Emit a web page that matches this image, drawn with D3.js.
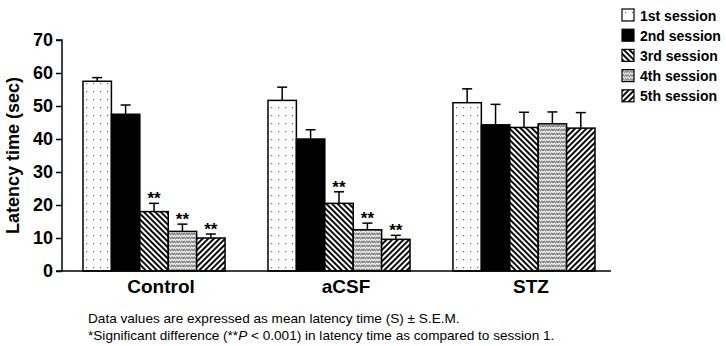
<!DOCTYPE html>
<html>
<head>
<meta charset="utf-8">
<script src="https://cdn.jsdelivr.net/npm/d3@7"></script>
<style>
  body { margin: 0; background: #fff; }
  svg { display: block; font-family: "Liberation Sans", Arial, sans-serif; }
</style>
</head>
<body>
<svg id="chart" width="726" height="346"></svg>
<script>
// Groups and sessions
const groups = ["Control", "aCSF", "STZ"];
const sessions = ["1st session", "2nd session", "3rd session", "4th session", "5th session"];

// Mean latency (sec) per session, one array per group
const controlMeans = [57.5, 47.5, 18.0, 12.0, 10.0];
const acsfMeans    = [51.7, 40.0, 20.5, 12.5, 9.6];
const stzMeans     = [51.0, 44.3, 43.5, 44.6, 43.3];

// S.E.M. per session
const controlSem = [1.1, 2.8, 2.5, 2.2, 1.2];
const acsfSem    = [4.0, 2.8, 3.5, 2.0, 1.2];
const stzSem     = [4.2, 6.2, 4.6, 3.6, 4.7];

// Significance marks per session (vs session 1)
const controlSig = ["", "", "**", "**", "**"];
const acsfSig    = ["", "", "**", "**", "**"];
const stzSig     = ["", "", "", "", ""];

const yTicks = [0, 10, 20, 30, 40, 50, 60, 70];

const table = [
  { group: "Control", means: controlMeans, sem: controlSem, sig: controlSig },
  { group: "aCSF",    means: acsfMeans,    sem: acsfSem,    sig: acsfSig },
  { group: "STZ",     means: stzMeans,     sem: stzSem,     sig: stzSig }
];
const rows = table.flatMap(g => g.means.map((m, i) => ({
  group: g.group, session: sessions[i], mean: m, sem: g.sem[i], sig: g.sig[i]
})));

const svg = d3.select("#chart");

// Fill patterns, one per session
const defs = svg.append("defs");
const dots = defs.append("pattern").attr("id", "pDots")
  .attr("patternUnits", "userSpaceOnUse").attr("width", 7).attr("height", 8);
dots.append("rect").attr("width", 7).attr("height", 8).attr("fill", "#fff");
dots.append("rect").attr("x", 3).attr("y", 3).attr("width", 1.2).attr("height", 1.2).attr("fill", "#666");

const back = defs.append("pattern").attr("id", "pBack")
  .attr("patternUnits", "userSpaceOnUse").attr("width", 4).attr("height", 4)
  .attr("patternTransform", "rotate(-45)");
back.append("rect").attr("width", 4).attr("height", 4).attr("fill", "#fff");
back.append("rect").attr("x", 0).attr("y", 0).attr("width", 1.9).attr("height", 4).attr("fill", "#000");

const zig = defs.append("pattern").attr("id", "pZig")
  .attr("patternUnits", "userSpaceOnUse").attr("width", 5).attr("height", 4);
zig.append("rect").attr("width", 5).attr("height", 4).attr("fill", "#fff");
zig.append("path").attr("d", "M0,3.4 L1.25,0.6 L2.5,3.4 L3.75,0.6 L5,3.4")
  .attr("fill", "none").attr("stroke", "#666").attr("stroke-width", 1);

const fwd = defs.append("pattern").attr("id", "pFwd")
  .attr("patternUnits", "userSpaceOnUse").attr("width", 4).attr("height", 4)
  .attr("patternTransform", "rotate(45)");
fwd.append("rect").attr("width", 4).attr("height", 4).attr("fill", "#fff");
fwd.append("rect").attr("x", 0).attr("y", 0).attr("width", 1.9).attr("height", 4).attr("fill", "#000");

const fills = ["url(#pDots)", "#000", "url(#pBack)", "url(#pZig)", "url(#pFwd)"];
const color = d3.scaleOrdinal().domain(sessions).range(fills);

// Scales
const x0 = d3.scaleBand().domain(groups).range([83, 595]).paddingInner(0.232).paddingOuter(0);
const x1 = d3.scaleBand().domain(sessions).range([0, x0.bandwidth()]);
const y = d3.scaleLinear().domain([0, 70]).range([271, 40]);

// Y axis
const yAxis = svg.append("g").attr("transform", "translate(62,0)")
  .call(d3.axisLeft(y).tickValues(yTicks).tickSize(6).tickPadding(3));
yAxis.select(".domain").attr("stroke", "#000").attr("stroke-width", 1.5)
  .attr("d", `M-6,${y(70)}H0V${y(0)}`);
yAxis.selectAll(".tick line").attr("stroke", "#000").attr("stroke-width", 1.5);
yAxis.selectAll(".tick text").attr("fill", "#000")
  .style("font-size", "18px").style("font-weight", "bold")
  .style("font-family", "'Liberation Sans', Arial, sans-serif");

svg.append("text")
  .attr("transform", `translate(19,${y(35)}) rotate(-90)`)
  .attr("text-anchor", "middle")
  .style("font-size", "18px").style("font-weight", "bold")
  .text("Latency time (sec)");

// Bars
const barG = svg.append("g");
const bars = barG.selectAll("g.bar").data(rows).join("g").attr("class", "bar")
  .attr("transform", d => `translate(${x0(d.group) + x1(d.session)},0)`);

// Error bars (upper whisker only)
bars.append("line")
  .attr("x1", x1.bandwidth() / 2).attr("x2", x1.bandwidth() / 2)
  .attr("y1", d => y(d.mean)).attr("y2", d => y(d.mean + d.sem))
  .attr("stroke", "#000").attr("stroke-width", 1.5);
bars.append("line")
  .attr("x1", x1.bandwidth() / 2 - 5).attr("x2", x1.bandwidth() / 2 + 5)
  .attr("y1", d => y(d.mean + d.sem)).attr("y2", d => y(d.mean + d.sem))
  .attr("stroke", "#000").attr("stroke-width", 1.5);

bars.append("rect")
  .attr("x", 0).attr("width", x1.bandwidth())
  .attr("y", d => y(d.mean)).attr("height", d => y(0) - y(d.mean))
  .attr("fill", d => color(d.session))
  .attr("stroke", "#000").attr("stroke-width", 1.5);

bars.append("text")
  .attr("x", x1.bandwidth() / 2)
  .attr("y", d => y(d.mean + d.sem) + 1)
  .attr("text-anchor", "middle")
  .style("font-size", "17px").style("font-weight", "bold")
  .text(d => d.sig);

// X axis baseline
svg.append("line").attr("x1", 56).attr("x2", 611)
  .attr("y1", y(0)).attr("y2", y(0))
  .attr("stroke", "#000").attr("stroke-width", 1.5);

svg.append("g").selectAll("text").data(groups).join("text")
  .attr("x", d => x0(d) + x0.bandwidth() / 2 + 7)
  .attr("y", 293)
  .attr("text-anchor", "middle")
  .style("font-size", "19px").style("font-weight", "bold")
  .text(d => d);

// Legend
const legend = svg.append("g").attr("transform", "translate(622,9)");
const li = legend.selectAll("g").data(sessions).join("g")
  .attr("transform", (d, i) => `translate(0,${i * 20.2})`);
li.append("rect").attr("width", 12).attr("height", 12)
  .attr("fill", d => color(d)).attr("stroke", "#000").attr("stroke-width", 1.2);
li.append("text").attr("x", 18).attr("y", 11.5)
  .style("font-size", "14px").style("font-weight", "bold")
  .text(d => d);

// Footnote
const foot = svg.append("g").style("font-size", "13.6px");
foot.append("text").attr("x", 88).attr("y", 323)
  .text("Data values are expressed as mean latency time (S) \u00b1 S.E.M.");
const f2 = foot.append("text").attr("x", 88).attr("y", 340);
f2.append("tspan").text("*Significant difference (**");
f2.append("tspan").style("font-style", "italic").text("P");
f2.append("tspan").text(" < 0.001) in latency time as compared to session 1.");
</script>
</body>
</html>
